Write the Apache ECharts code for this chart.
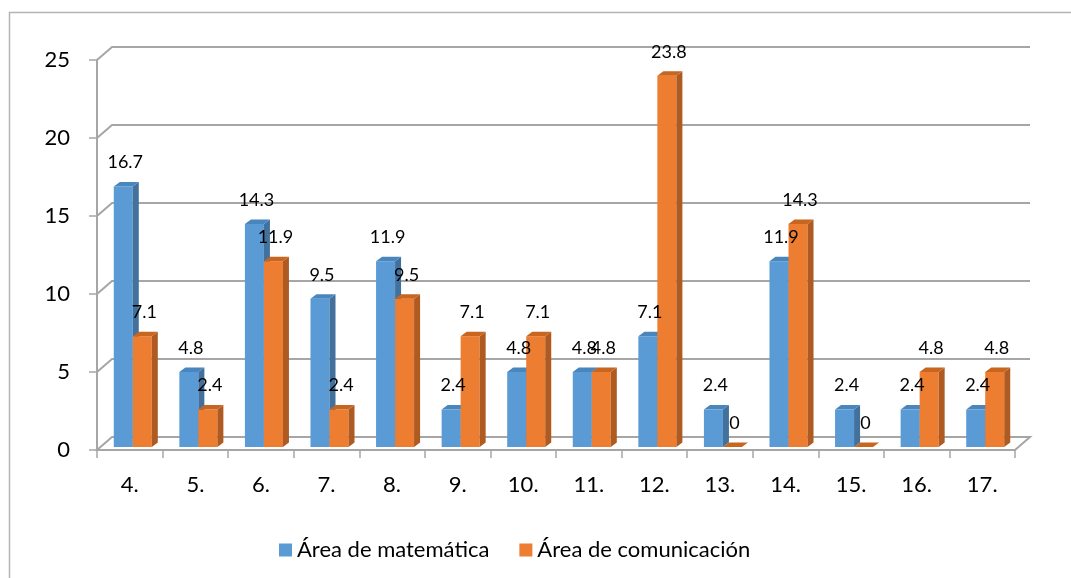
<!DOCTYPE html>
<html>
<head>
<meta charset="utf-8">
<script src="https://cdn.jsdelivr.net/npm/echarts@6/dist/echarts.min.js"></script>
<style>html,body{margin:0;padding:0;background:#fff}#c{width:1071px;height:578px}</style>
</head>
<body>
<div id="c"></div>
<script>
var categories = ['4.', '5.', '6.', '7.', '8.', '9.', '10.', '11.', '12.', '13.', '14.', '15.', '16.', '17.'];
var matematica = [16.7, 4.8, 14.3, 9.5, 11.9, 2.4, 4.8, 4.8, 7.1, 2.4, 11.9, 2.4, 2.4, 2.4];
var comunicacion = [7.1, 2.4, 11.9, 2.4, 9.5, 7.1, 7.1, 4.8, 23.8, 0, 14.3, 0, 4.8, 4.8];
var yTicks = [0, 5, 10, 15, 20, 25];
var seriesNames = ['Área de matemática', 'Área de comunicación'];

var FONT = 'Lato, "Liberation Sans", sans-serif';
var WALL_DX = 15, WALL_DY = -13;
var BAR_SHIFT = 3;
var BAR_DX = 6, BAR_DY = -4.5;
var colors = [
  { front: '#5B9BD5', side: '#41719C', top: '#4A86BE' },
  { front: '#ED7D31', side: '#AE5A21', top: '#C8651F' }
];

function wallRender(params, api) {
  var t = api.value(1);
  var band = api.size([1, 0])[0];
  var p = api.coord([0, t]);
  var left = p[0] - band / 2;
  var right = left + band * categories.length;
  var y = p[1];
  var style = { stroke: '#A6A6A6', lineWidth: 2, fill: null };
  if (t === 0) {
    return {
      type: 'polygon',
      shape: { points: [[left, y], [right, y], [right + WALL_DX, y + WALL_DY], [left + WALL_DX, y + WALL_DY]] },
      style: style, silent: true
    };
  }
  return {
    type: 'polyline',
    shape: { points: [[left, y], [left + WALL_DX, y + WALL_DY], [right + WALL_DX, y + WALL_DY]] },
    style: style, silent: true
  };
}

function makeBarRender(si) {
  return function (params, api) {
    var idx = api.value(0), v = api.value(1);
    var band = api.size([1, 0])[0];
    var w = band * 0.29;
    var top = api.coord([idx, v]);
    var base = api.coord([idx, 0]);
    var cx = top[0] + BAR_SHIFT;
    var x0 = si === 0 ? cx - w : cx;
    var yt = top[1] - BAR_SHIFT;
    var yb = base[1] - BAR_SHIFT;
    var c = colors[si];
    var children = [];
    if (yb - yt > 0.5) {
      children.push({ type: 'rect', z2: 1, shape: { x: x0, y: yt, width: w, height: yb - yt }, style: { fill: c.front } });
      children.push({ type: 'polygon', z2: 1, shape: { points: [[x0 + w, yt], [x0 + w + BAR_DX, yt + BAR_DY], [x0 + w + BAR_DX, yb + BAR_DY], [x0 + w, yb]] }, style: { fill: c.side } });
    }
    children.push({ type: 'polygon', z2: 1, shape: { points: [[x0, yt], [x0 + BAR_DX, yt + BAR_DY], [x0 + w + BAR_DX, yt + BAR_DY], [x0 + w, yt]] }, style: { fill: c.top } });
    children.push({
      type: 'text', z2: 100,
      style: {
        text: String(v), x: x0 + w / 2 + 2, y: yt - 24,
        textAlign: 'center', textVerticalAlign: 'middle',
        font: '18px ' + FONT, fill: '#000'
      }
    });
    return { type: 'group', children: children };
  };
}

var chart = echarts.init(document.getElementById('c'), null, { renderer: 'canvas' });
chart.setOption({
  backgroundColor: '#fff',
  animation: false,
  graphic: [{
    type: 'rect', left: 7, top: 10, silent: true,
    shape: { width: 1100, height: 600 },
    style: { fill: null, stroke: '#B4B4B4', lineWidth: 1.5 }
  }],
  grid: { left: 97, right: 56, top: 60, bottom: 128 },
  legend: {
    data: seriesNames,
    left: 274, top: 534,
    icon: 'rect', itemWidth: 13, itemHeight: 13, itemGap: 30,
    textStyle: { fontSize: 22, fontFamily: FONT, color: '#000' }
  },
  xAxis: {
    type: 'category', data: categories, boundaryGap: true,
    axisLine: { show: true, lineStyle: { color: '#A6A6A6', width: 2 } },
    axisTick: { show: true, alignWithLabel: false, length: 8, lineStyle: { color: '#A6A6A6', width: 1.5 } },
    axisLabel: { fontSize: 22, fontFamily: FONT, color: '#000', margin: 24 },
    splitLine: { show: false }
  },
  yAxis: {
    type: 'value', min: 0, max: 25, interval: 5,
    axisLine: { show: true, lineStyle: { color: '#A6A6A6', width: 2 } },
    axisTick: { show: true, length: 8, lineStyle: { color: '#A6A6A6', width: 1.5 } },
    axisLabel: { fontSize: 22, fontFamily: FONT, color: '#000', margin: 27 },
    splitLine: { show: false }
  },
  series: [
    {
      type: 'custom', name: 'walls', silent: true, z: 1,
      renderItem: wallRender,
      data: yTicks.map(function (t) { return [0, t]; }),
      encode: { x: 0, y: 1 }
    },
    {
      type: 'custom', name: seriesNames[0], z: 3,
      itemStyle: { color: colors[0].front },
      renderItem: makeBarRender(0),
      data: matematica.map(function (v, i) { return [i, v]; }),
      encode: { x: 0, y: 1 }
    },
    {
      type: 'custom', name: seriesNames[1], z: 3,
      itemStyle: { color: colors[1].front },
      renderItem: makeBarRender(1),
      data: comunicacion.map(function (v, i) { return [i, v]; }),
      encode: { x: 0, y: 1 }
    }
  ]
});
</script>
</body>
</html>
